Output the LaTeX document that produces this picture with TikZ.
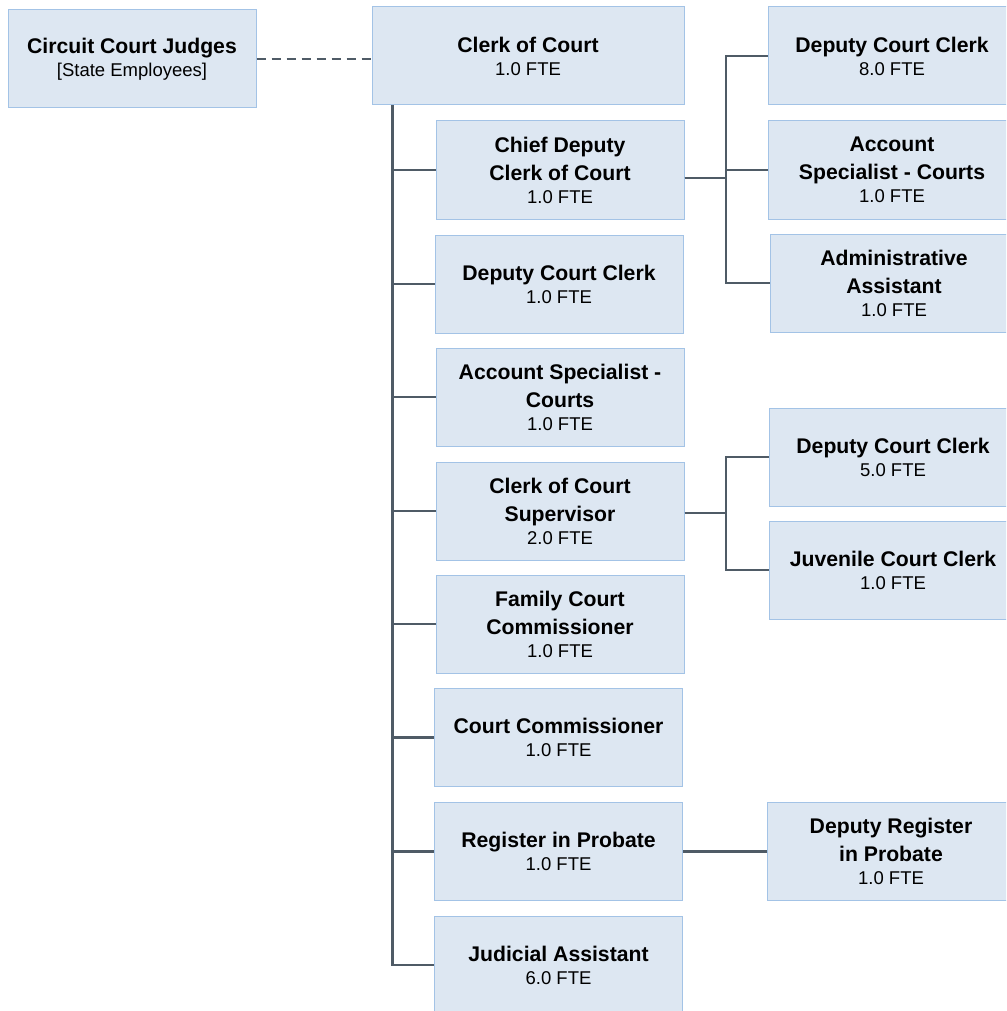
\documentclass[tikz,border=0pt]{standalone}
\usepackage{fontspec}
\setmainfont{Liberation Sans}
\definecolor{boxfill}{HTML}{DDE7F2}
\definecolor{boxline}{HTML}{A3C3E6}
\definecolor{connc}{HTML}{4F5B66}
\tikzset{
  box/.style={draw=boxline, fill=boxfill, line width=1pt, minimum width=248pt,
    minimum height=98pt, inner sep=0pt, align=center, font=\fontsize{18.5}{23}\selectfont},
  conn/.style={draw=connc, line width=2.8pt},
  dconn/.style={conn, dash pattern=on 9pt off 6pt},
}
\newcommand\ttl[1]{{\bfseries\fontsize{21.2}{23}\selectfont #1}}
\begin{document}
\begin{tikzpicture}[x=1pt,y=-1pt]
\useasboundingbox (0,0) rectangle (1006,1011);
\clip (0,0) rectangle (1006,1011);
\fill[white] (0,0) rectangle (1006,1011);
% nodes
\node[box] (judges) at (132,59) {\ttl{Circuit Court Judges}\\{[State Employees]}};
\node[box, minimum width=312pt] (clerk) at (528,56) {\ttl{Clerk of Court}\\1.0 FTE};
\node[box] (chief) at (560,170) {\ttl{Chief Deputy}\\[5pt]\ttl{Clerk of Court}\\1.0 FTE};
\node[box] (dcc1) at (559,284) {\ttl{Deputy Court Clerk}\\1.0 FTE};
\node[box] (acc1) at (560,397) {\ttl{Account Specialist -}\\[5pt]\ttl{Courts}\\1.0 FTE};
\node[box] (sup) at (560,511) {\ttl{Clerk of Court}\\[5pt]\ttl{Supervisor}\\2.0 FTE};
\node[box] (fcc) at (560,624) {\ttl{Family Court}\\[5pt]\ttl{Commissioner}\\1.0 FTE};
\node[box] (cc) at (558.5,737.5) {\ttl{Court Commissioner}\\1.0 FTE};
\node[box] (rip) at (558.5,851.5) {\ttl{Register in Probate}\\1.0 FTE};
\node[box] (ja) at (558.5,965) {\ttl{Judicial Assistant}\\6.0 FTE};
\node[box] (dcc8) at (892,56) {\ttl{Deputy Court Clerk}\\8.0 FTE};
\node[box] (acc2) at (892,170) {\ttl{Account}\\[5pt]\ttl{Specialist - Courts}\\1.0 FTE};
\node[box] (adm) at (894,283) {\ttl{Administrative}\\[5pt]\ttl{Assistant}\\1.0 FTE};
\node[box] (dcc5) at (893,457) {\ttl{Deputy Court Clerk}\\5.0 FTE};
\node[box] (jcc) at (893,570) {\ttl{Juvenile Court Clerk}\\1.0 FTE};
\node[box] (drip) at (891,851.5) {\ttl{Deputy Register}\\[5pt]\ttl{in Probate}\\1.0 FTE};
% connectors
\draw[dconn] (judges.east) -- (judges.east -| clerk.west);
\coordinate (trunk) at ([xshift=21pt]clerk.south west);
\foreach \n in {chief,dcc1,acc1,sup,fcc,cc,rip,ja}
  \draw[conn] (trunk) |- (\n.west);
\coordinate (bus1) at (726,0);
\foreach \n in {dcc8,acc2,adm}
  \draw[conn] ([yshift=-8pt]chief.east) -| (bus1 |- \n.west) -- (\n.west);
\coordinate (bus2) at (726,0);
\foreach \n in {dcc5,jcc}
  \draw[conn] ([yshift=-2pt]sup.east) -| (bus2 |- \n.west) -- (\n.west);
\draw[conn] (rip.east) -- (drip.west);
\end{tikzpicture}
\end{document}
